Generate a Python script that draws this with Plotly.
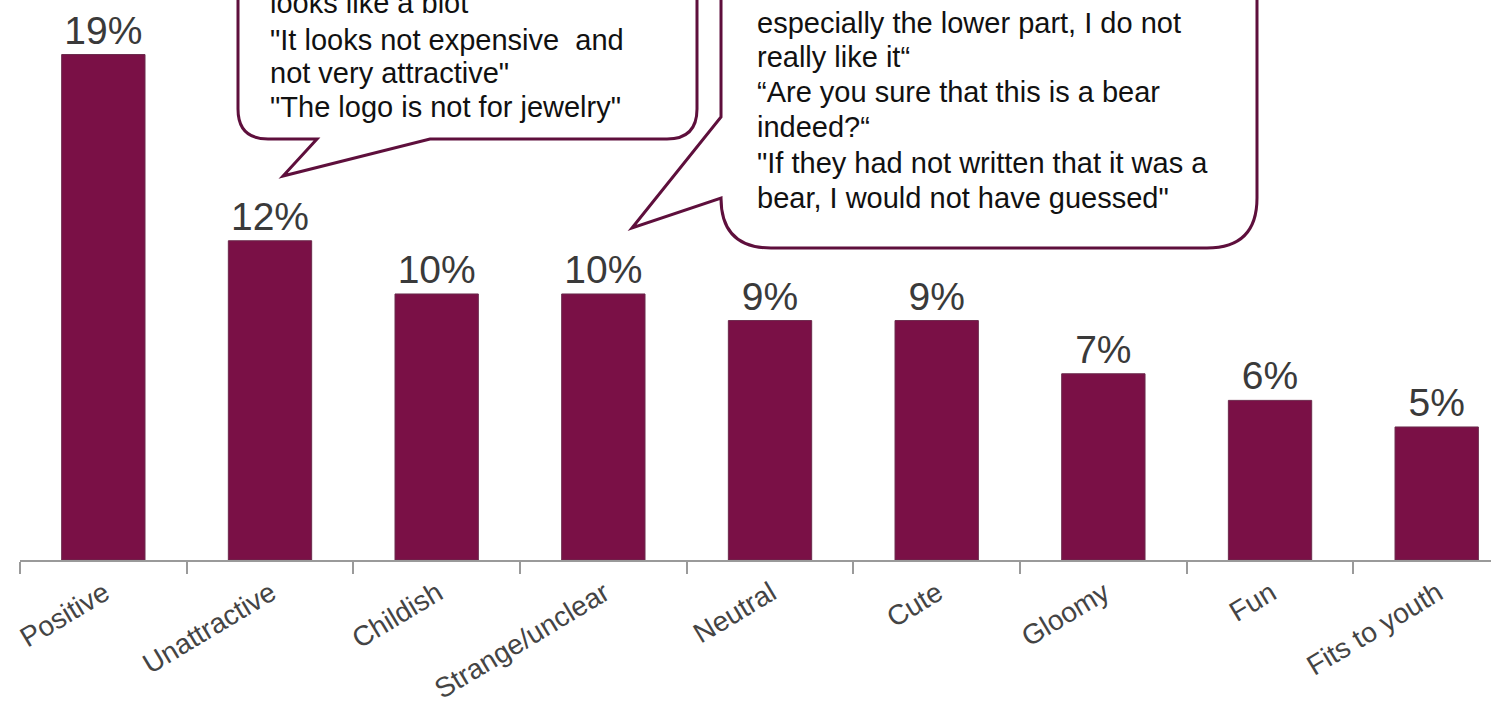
import plotly.graph_objects as go

# Survey answers: associations with the logo (share of respondents, %)
categories = ["Positive", "Unattractive", "Childish", "Strange/unclear", "Neutral",
              "Cute", "Gloomy", "Fun", "Fits to youth"]
shares = [19, 12, 10, 10, 9, 9, 7, 6, 5]

# Respondent quotes shown in the callouts (one entry per printed line)
quotes_left = [
    'looks like a blot"',
    '"It looks not expensive  and',
    'not very attractive"',
    '"The logo is not for jewelry"',
]
quotes_right = [
    "especially the lower part, I do not",
    "really like it\u201c",
    "\u201cAre you sure that this is a bear",
    "indeed?\u201c",
    '"If they had not written that it was a',
    'bear, I would not have guessed"',
]

W, H = 1491, 706
ML, MR, MT, MB = 20, 0, 0, 146
PW, PH = W - ML - MR, H - MT - MB
CAT_PX = 166.67          # width of one category slot in pixels
FONT = "Liberation Sans, Arial, sans-serif"
BAR = "#7a1046"
EDGE = "#5e0f3c"


def xp(x):
    return (x - ML) / PW


def yp(y):
    return (MT + PH - y) / PH


def path(points):
    """Build an SVG path (paper coords) from pixel commands."""
    out = []
    for cmd, *pts in points:
        coords = []
        for i in range(0, len(pts), 2):
            coords.append(f"{xp(pts[i]):.5f},{yp(pts[i + 1]):.5f}")
        out.append(cmd + " " + " ".join(coords))
    return " ".join(out) + " Z"


fig = go.Figure(
    go.Bar(
        x=categories,
        y=shares,
        width=0.5,
        marker=dict(color=BAR, line=dict(color="#6b2a4c", width=1)),
        texttemplate="%{y}%",
        textposition="outside",
        textfont=dict(family=FONT, size=39, color="#3a3a3a"),
        cliponaxis=False,
        hoverinfo="skip",
    )
)

# Callout bubbles
bubble_left = path([
    ("M", 238, -80), ("L", 697, -80), ("L", 697, 109),
    ("Q", 697, 139, 667, 139), ("L", 430, 139), ("L", 283, 176),
    ("L", 317, 139), ("L", 268, 139), ("Q", 238, 139, 238, 109),
])
bubble_right = path([
    ("M", 721, -80), ("L", 1257, -80), ("L", 1257, 198),
    ("Q", 1257, 248, 1207, 248), ("L", 771, 248),
    ("Q", 721, 248, 721, 198), ("L", 632, 228), ("L", 721, 117),
])
shapes = [
    dict(type="path", path=p, xref="paper", yref="paper",
         line=dict(color=EDGE, width=3), fillcolor="white", layer="above")
    for p in (bubble_left, bubble_right)
]

annotations = []
for text, base in zip(quotes_left, [13, 50, 83, 117]):
    annotations.append(dict(text=text, x=xp(268), y=yp(base - 10), xref="paper", yref="paper",
                            xanchor="left", yanchor="middle", showarrow=False,
                            font=dict(family=FONT, size=29, color="#111111")))
for text, base in zip(quotes_right, [33, 67, 102, 137, 173, 208]):
    annotations.append(dict(text=text, x=xp(755), y=yp(base - 10), xref="paper", yref="paper",
                            xanchor="left", yanchor="middle", showarrow=False,
                            font=dict(family=FONT, size=29, color="#111111")))

fig.update_layout(
    width=W, height=H,
    margin=dict(l=ML, r=MR, t=MT, b=MB, pad=0),
    paper_bgcolor="white", plot_bgcolor="white",
    showlegend=False,
    bargap=0.5,
    shapes=shapes,
    annotations=annotations,
    xaxis=dict(
        range=[-0.5, -0.5 + PW / CAT_PX],
        automargin=False,
        showline=True, linecolor="#9a9a9a", linewidth=2,
        ticks="outside", tickson="boundaries", ticklen=12,
        tickcolor="#9a9a9a", tickwidth=2,
        tickangle=-31,
        ticklabelstandoff=4,
        ticklabelshift=1,
        tickfont=dict(family=FONT, size=28, color="#444444"),
        showgrid=False, zeroline=False, fixedrange=True,
    ),
    yaxis=dict(range=[0, 21.05], visible=False, fixedrange=True, automargin=False),
)

fig.write_html("out.html", config={"displayModeBar": False})
